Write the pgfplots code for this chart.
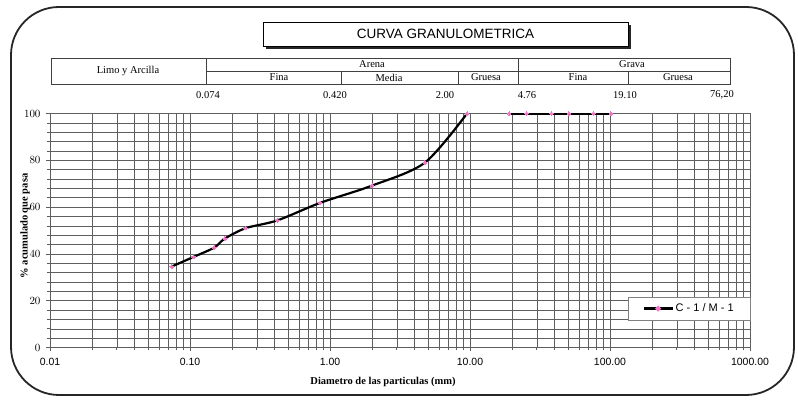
\documentclass[border=0pt]{standalone}
\usepackage{pgfplots}
\pgfplotsset{compat=1.18}
\usepackage{fontspec}
\setmainfont{Liberation Serif}
\newfontfamily\arial{Liberation Sans}
\definecolor{gridc}{RGB}{95,95,95}
\definecolor{mk}{RGB}{240,120,200}
\begin{document}
\begin{tikzpicture}[x=1pt,y=1pt]
\path[use as bounding box] (0,0) rectangle (798,401);
% outer rounded frame
\draw[line width=1.8pt, rounded corners=48pt, black!85] (11,6) rectangle (794,394);
% title box with shadow
\fill[black!85] (266,352) rectangle (631,376);
\draw[fill=white, line width=0.8pt] (263,355) rectangle (628,379);
\node[font=\arial\fontsize{13.5}{15}\selectfont] at (445.5,367) {CURVA GRANULOMETRICA};
% classification table
\begin{scope}[draw=black!75, line width=0.6pt]
\draw[line width=0.9pt] (51,317) rectangle (730,343);
\draw (206,317) -- (206,343);
\draw (518,317) -- (518,343);
\draw (206,330) -- (730,330);
\draw (341,317) -- (341,330);
\draw (458,317) -- (458,330);
\draw (628,317) -- (628,330);
\end{scope}
\begin{scope}[font=\fontsize{10.5}{11}\selectfont]
\node at (128,330.5) {Limo y Arcilla};
\node at (372,336.5) {Arena};
\node at (632,336.5) {Grava};
\node at (279,323.5) {Fina};
\node at (389,323.5) {Media};
\node at (486,323.5) {Gruesa};
\node at (578,323.5) {Fina};
\node at (678,323.5) {Gruesa};
\node at (208,306) {0.074};
\node at (335,306) {0.420};
\node at (445,306) {2.00};
\node at (527,306) {4.76};
\node at (625,306) {19.10};
\node at (722,306) {76,20};
\end{scope}
% axis labels
\node[font=\bfseries\fontsize{10.5}{12}\selectfont] at (383,19) {Diametro de las particulas (mm)};
\node[font=\bfseries\fontsize{10.5}{12}\selectfont, rotate=90] at (25,175) {\% acumulado que pasa};
\begin{axis}[
  at={(50pt,53.5pt)}, anchor=south west,
  scale only axis, width=700pt, height=234pt,
  xmode=log, xmin=0.01, xmax=1000, ymin=0, ymax=100,
  log basis x=10,
  xtick={0.01,0.1,1,10,100,1000},
  xticklabels={0.01,0.10,1.00,10.00,100.00,1000.00},
  minor xtick={0.02,0.03,0.04,0.05,0.06,0.07,0.08,0.09,
    0.2,0.3,0.4,0.5,0.6,0.7,0.8,0.9,
    2,3,4,5,6,7,8,9,
    20,30,40,50,60,70,80,90,
    200,300,400,500,600,700,800,900},
  ytick={0,20,40,60,80,100},
  minor y tick num=4,
  grid=both,
  major grid style={gridc, line width=0.6pt},
  minor grid style={gridc, line width=0.5pt},
  axis line style={gridc, line width=0.7pt},
  tick style={gridc, line width=0.6pt},
  tick align=outside,
  major tick length=4pt, minor tick length=3pt,
  xtick pos=bottom, ytick pos=left,
  tick label style={font=\arial\fontsize{10.5}{12}\selectfont},
  yticklabel style={xshift=-2pt},
  xticklabel style={yshift=-3pt},
  legend style={at={(1,0.1175)}, anchor=south east, draw=gray, fill=white,
    font=\arial\fontsize{11}{12}\selectfont, inner xsep=14pt, inner ysep=4.5pt},
  legend image code/.code={
    \draw[line width=2.2pt, black] (0pt,0pt) -- (29pt,0pt);
    \fill[mk] (14.5pt,0pt) circle (1.6pt);
  },
]
\addplot[black, line width=2.2pt, smooth, tension=0.5, mark=*, mark size=1.8pt,
  mark options={fill=mk, draw=mk, line width=0pt}]
  coordinates {(0.074,34.6) (0.106,38.7) (0.149,42.7) (0.177,46.5) (0.25,51)
  (0.42,54.3) (0.85,61.8) (2.0,69.2) (4.76,79) (9.52,100)};
\addlegendentry{C - 1 / M - 1}
\addplot[black, line width=2.2pt, mark=*, mark size=1.8pt, forget plot,
  mark options={fill=mk, draw=mk, line width=0pt}]
  coordinates {(19.05,100) (25.4,100) (38.1,100) (50.8,100) (76.2,100) (101.6,100)};
\end{axis}
\end{tikzpicture}
\end{document}
